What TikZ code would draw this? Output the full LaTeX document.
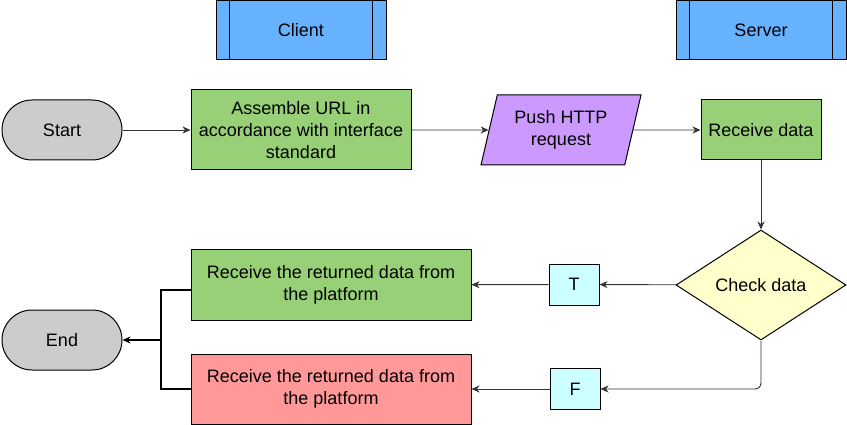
\documentclass[tikz,border=0pt]{standalone}
\usepackage{fontspec}
\setmainfont{Liberation Sans}
\usetikzlibrary{positioning}
\usetikzlibrary{shapes.geometric, arrows.meta}
\definecolor{lanefill}{HTML}{66B2FF}
\definecolor{stepgreen}{HTML}{97D077}
\definecolor{stepred}{HTML}{FF9999}
\definecolor{iofill}{HTML}{CC99FF}
\definecolor{checkfill}{HTML}{FFFFCC}
\definecolor{flagfill}{HTML}{CCFFFF}
\definecolor{endfill}{HTML}{CCCCCC}
\begin{document}
\begin{tikzpicture}[x=1pt, y=-1pt,
				every node/.style={font=\fontsize{18}{21.6}\selectfont, line width=1pt},
				every text node part/.style={align=center},
				process/.style={draw, rectangle, inner sep=3pt},
				lane/.style={process, fill=lanefill, minimum width=170, minimum height=59},
				terminal/.style={draw, rectangle, rounded corners=30pt, fill=endfill, minimum width=120, minimum height=60},
				flag/.style={process, fill=flagfill, minimum width=50, minimum height=41},
				flow/.style={draw=black!80, line width=0.9pt, -{Stealth[length=8pt, width=7pt, inset=2.5pt]}},
				merge line/.style={draw, line width=1.5pt}]
				\useasboundingbox (0,0) rectangle (847,425);
				
				\node[lane](client) at (301,30.5) {Client};
				\node[lane](server) at (761,30.5) {Server};
				\draw ([xshift=14pt]client.north west) -- ([xshift=14pt]client.south west);
				\draw ([xshift=-14pt]client.north east) -- ([xshift=-14pt]client.south east);
				\draw ([xshift=14pt]server.north west) -- ([xshift=14pt]server.south west);
				\draw ([xshift=-14pt]server.north east) -- ([xshift=-14pt]server.south east);
				
				\node[terminal](start) at (62,130) {Start};
				\node[process, fill=stepgreen, minimum width=220, minimum height=80](assemble) at (301,130) {Assemble URL in\\accordance with interface\\standard};
				\node[draw, trapezium, trapezium left angle=67, trapezium right angle=113, trapezium stretches body, fill=iofill, minimum width=160, minimum height=70, inner sep=0pt](push) at (561,130) {Push HTTP\\request};
				\node[process, fill=stepgreen, minimum width=120, minimum height=60](receive) at (761,130) {Receive data};
				
				\node[draw, diamond, fill=checkfill, minimum width=170, minimum height=110, inner sep=0pt](check) at (761,285) {Check data};
				\node[flag](true) at (574,284.5) {T};
				\node[flag](false) at (575,389) {F};
				
				\node[process, fill=stepgreen, minimum width=280, minimum height=70](platformok) at (331,285) {Receive the returned data from\\the platform};
				\node[process, fill=stepred, minimum width=280, minimum height=70](platformfail) at (331,389) {Receive the returned data from\\the platform};
				\node[terminal](end) at (62,340) {End};
				\coordinate (merge) at (161,340);
				
				\draw [flow] (start) -- (assemble);
				\draw [flow] (assemble) -- (push);
				\draw [flow] (push) -- (receive);
				\draw [flow] (receive) -- (check);
				\draw [flow] (check) -- (true);
				\draw [flow] (true) -- (platformok);
				\draw [flow, rounded corners=6pt] (check.south) |- (false);
				\draw [flow] (false) -- (platformfail);
				\draw [merge line] ([yshift=-5pt]platformok.west) -| (merge) |- (platformfail.west);
				\draw [merge line, -{Stealth[length=8pt, width=7pt, inset=2.5pt]}] (merge) -- (end);
			\end{tikzpicture}
\end{document}
